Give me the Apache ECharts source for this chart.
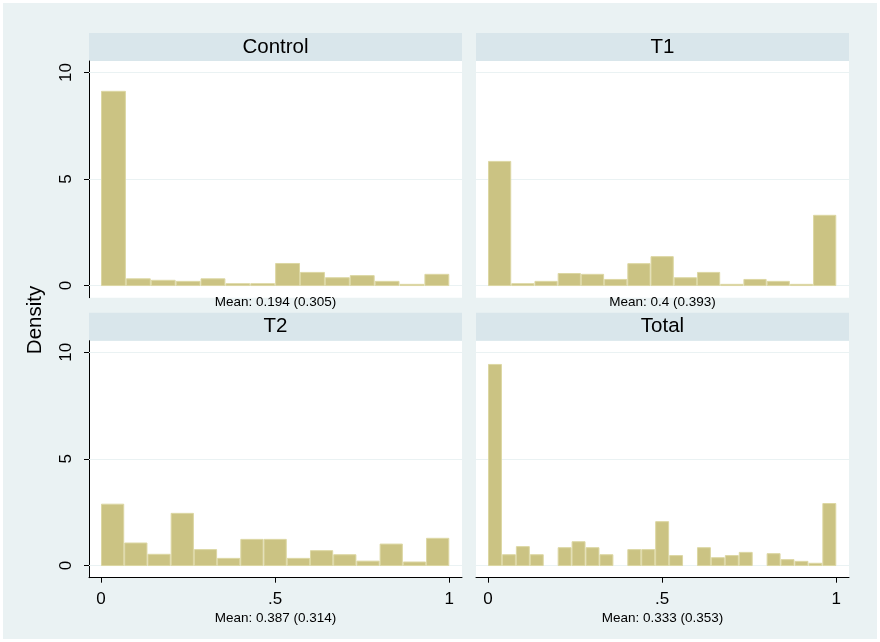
<!DOCTYPE html>
<html>
<head>
<meta charset="utf-8">
<script src="https://cdn.jsdelivr.net/npm/echarts@6/dist/echarts.min.js"></script>
<style>
html,body{margin:0;padding:0;background:#ffffff;}
#chart{width:880px;height:642px;}
</style>
</head>
<body>
<div id="chart"></div>
<script>
// ---- data (densities) ----
const panelTitles = ['Control', 'T1', 'T2', 'Total'];
const controlDensity = [9.14, 0.34, 0.27, 0.22, 0.34, 0.11, 0.11, 1.06, 0.64, 0.39, 0.49, 0.22, 0.08, 0.55];
const t1Density = [5.85, 0.11, 0.22, 0.59, 0.55, 0.31, 1.05, 1.38, 0.39, 0.64, 0.08, 0.31, 0.22, 0.08, 3.32];
const t2Density = [2.90, 1.08, 0.55, 2.47, 0.77, 0.36, 1.25, 1.25, 0.36, 0.72, 0.53, 0.23, 1.03, 0.19, 1.30];
const totalDensity = [9.45, 0.53, 0.91, 0.53, 0, 0.86, 1.14, 0.86, 0.53, 0, 0.77, 0.77, 2.08, 0.49, 0, 0.86, 0.39, 0.49, 0.64, 0, 0.58, 0.30, 0.22, 0.13, 2.93];
const meanNotes = ['Mean: 0.194 (0.305)', 'Mean: 0.4 (0.393)', 'Mean: 0.387 (0.314)', 'Mean: 0.333 (0.353)'];
const yTicks = [0, 5, 10];
const xTicks = [0, 0.5, 1];
const yAxisTitle = 'Density';

const allDensities = [controlDensity, t1Density, t2Density, totalDensity];

// ---- layout ----
const FONT = 'Liberation Sans, Arial, Helvetica, sans-serif';
const grids = [
  {left: 89, top: 61, width: 373, height: 236.7},
  {left: 476, top: 61, width: 373, height: 236.7},
  {left: 89, top: 340.7, width: 373, height: 237},
  {left: 476, top: 340.7, width: 373, height: 237}
];
const stripH = 28;

function binsFrom(arr) {
  const w = 1 / arr.length;
  return arr.map((d, i) => [i * w, (i + 1) * w, d]).filter(b => b[2] > 0);
}

const xAxes = grids.map((g, i) => ({
  type: 'value', gridIndex: i, min: -0.0345, max: 1.0365,
  show: i >= 2,
  axisLine: {show: true, onZero: false, lineStyle: {color: '#000', width: 1}},
  axisTick: {show: true, customValues: xTicks, length: 5, lineStyle: {color: '#000'}},
  axisLabel: {show: true, customValues: xTicks, margin: 13, fontSize: 17, color: '#000', fontFamily: FONT,
    formatter: v => (v === 0 ? '0' : v === 1 ? '1' : String(v).replace(/^0/, ''))},
  splitLine: {show: false}
}));

const yAxes = grids.map((g, i) => ({
  type: 'value', gridIndex: i, min: -0.57, max: 10.54,
  show: i % 2 === 0,
  axisLine: {show: true, onZero: false, lineStyle: {color: '#000', width: 1}},
  axisTick: {show: true, customValues: yTicks, length: 5, lineStyle: {color: '#000'}},
  axisLabel: {show: true, customValues: yTicks, rotate: 90, margin: 14, fontSize: 17, color: '#000', fontFamily: FONT},
  splitLine: {show: false}
}));

const series = allDensities.map((arr, i) => ({
  type: 'custom', xAxisIndex: i, yAxisIndex: i, z: 3,
  data: binsFrom(arr),
  encode: {x: [0, 1], y: 2},
  renderItem: function (params, api) {
    const p0 = api.coord([api.value(0), api.value(2)]);
    const p1 = api.coord([api.value(1), 0]);
    return {
      type: 'rect',
      shape: {x: p0[0] + 0.5, y: p0[1] + 0.5, width: p1[0] - p0[0] - 1, height: p1[1] - p0[1] - 0.5},
      style: {fill: '#cbc383', stroke: '#dcd7a3', lineWidth: 1}
    };
  },
  markLine: {
    silent: true, symbol: 'none', z: 1,
    label: {show: false},
    lineStyle: {color: '#eaf2f3', type: 'solid', width: 1.2},
    data: yTicks.map(v => ({yAxis: v}))
  }
}));

const graphics = [];
graphics.push({type: 'rect', z: -10, shape: {x: 3, y: 3, width: 874, height: 636}, style: {fill: '#eaf2f3'}});
grids.forEach((g, i) => {
  graphics.push({type: 'rect', z: -9, shape: {x: g.left, y: g.top, width: g.width, height: g.height}, style: {fill: '#ffffff'}});
  graphics.push({type: 'rect', z: -9, shape: {x: g.left, y: g.top - stripH, width: g.width, height: stripH}, style: {fill: '#d9e6eb'}});
  graphics.push({type: 'text', z: 5, x: g.left + g.width / 2, y: g.top - stripH / 2,
    style: {text: panelTitles[i], fill: '#000', font: '20.5px ' + FONT, align: 'center', verticalAlign: 'middle'}});
  const noteY = i < 2 ? g.top + g.height + 4.5 : g.top + g.height + 40.5;
  graphics.push({type: 'text', z: 5, x: g.left + g.width / 2, y: noteY,
    style: {text: meanNotes[i], fill: '#000', font: '13.5px ' + FONT, align: 'center', verticalAlign: 'middle'}});
});
graphics.push({type: 'text', z: 5, x: 35, y: 320, rotation: Math.PI / 2,
  style: {text: yAxisTitle, fill: '#000', font: '20.5px ' + FONT, align: 'center', verticalAlign: 'middle'}});

const chart = echarts.init(document.getElementById('chart'), null, {renderer: 'canvas'});
chart.setOption({
  backgroundColor: '#ffffff',
  animation: false,
  grid: grids.map(g => Object.assign({containLabel: false}, g)),
  xAxis: xAxes,
  yAxis: yAxes,
  series: series,
  graphic: {elements: graphics}
});
</script>
</body>
</html>
